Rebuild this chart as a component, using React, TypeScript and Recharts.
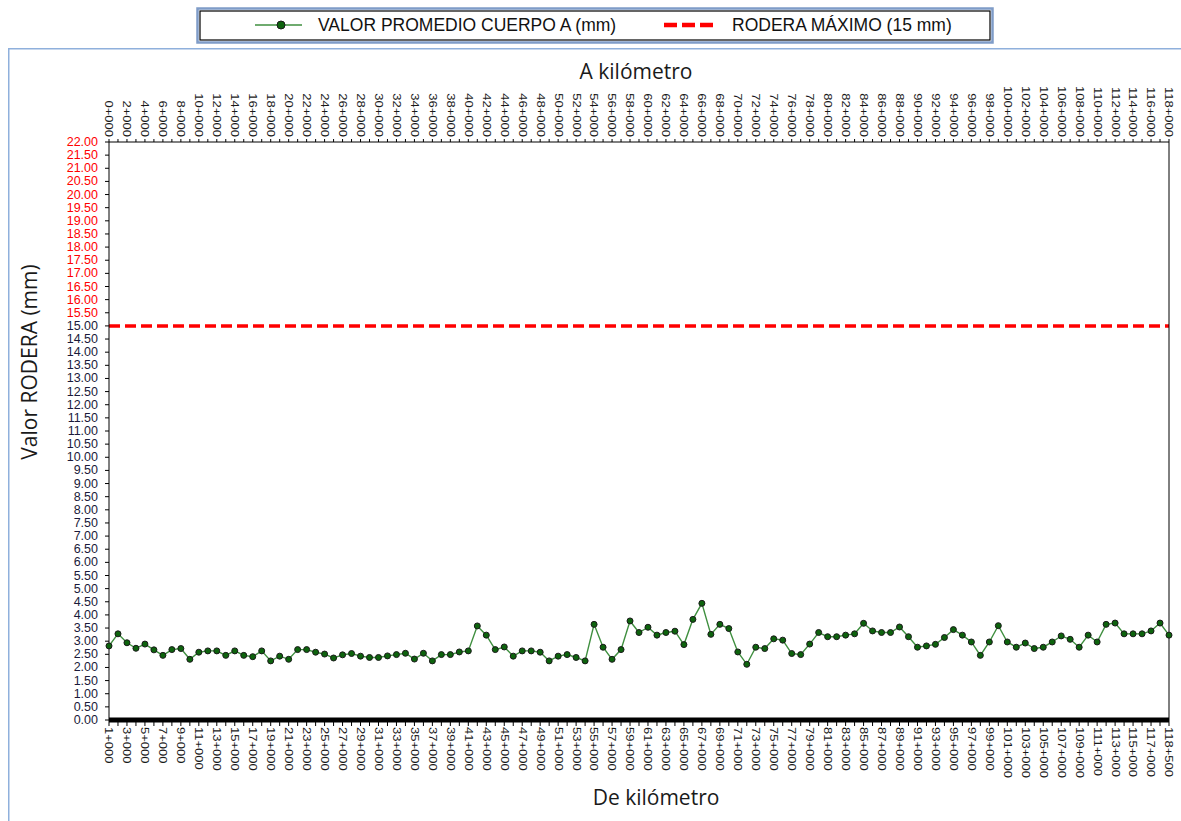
import { LineChart, Line, XAxis, YAxis, ReferenceLine } from "recharts"

// km markers: top axis shows "A" (to), bottom axis shows "De" (from)
const KM_A = Array.from({ length: 119 }, (_, i) => `${i}+000`)
const KM_DE = Array.from({ length: 119 }, (_, i) =>
  i < 118 ? `${i + 1}+000` : "118+500"
)

// Valor promedio cuerpo A (mm)
const VALOR_A = [
  2.82, 3.28, 2.94, 2.73, 2.89, 2.67, 2.46, 2.68, 2.72, 2.31,
  2.58, 2.63, 2.63, 2.46, 2.63, 2.46, 2.41, 2.63, 2.25, 2.43,
  2.31, 2.68, 2.68, 2.58, 2.51, 2.36, 2.48, 2.53, 2.43, 2.38,
  2.38, 2.44, 2.49, 2.54, 2.32, 2.54, 2.25, 2.49, 2.49, 2.59,
  2.63, 3.58, 3.23, 2.68, 2.78, 2.43, 2.63, 2.63, 2.58, 2.25,
  2.43, 2.49, 2.38, 2.25, 3.64, 2.77, 2.31, 2.68, 3.77, 3.33,
  3.53, 3.23, 3.33, 3.38, 2.87, 3.83, 4.44, 3.26, 3.64, 3.48,
  2.59, 2.12, 2.77, 2.72, 3.09, 3.04, 2.53, 2.49, 2.89, 3.33,
  3.17, 3.17, 3.23, 3.28, 3.68, 3.39, 3.33, 3.33, 3.54, 3.17,
  2.77, 2.82, 2.88, 3.14, 3.44, 3.23, 2.97, 2.46, 2.97, 3.59,
  2.97, 2.77, 2.93, 2.72, 2.77, 2.97, 3.2, 3.07, 2.77, 3.23,
  2.97, 3.64, 3.69, 3.28, 3.28, 3.28, 3.39, 3.69, 3.23,
]

const RODERA_MAX = 15
const Y_TICKS = Array.from({ length: 45 }, (_, i) => i * 0.5)

const data = KM_A.map((a, i) => ({ a, de: KM_DE[i], valor: VALOR_A[i] }))

const FONT = "'Liberation Sans', Arial, sans-serif"
const TITLE_FONT = "'Open Sans', 'Noto Sans', sans-serif"

// vertical km labels, only every other category gets text
const KmTick = ({ x, y, payload, index, anchor }: any) => {
  if (index % 2) return <g />
  return (
    <text
      transform={`translate(${x},${y}) rotate(90) scale(1,0.82)`}
      textAnchor={anchor}
      dominantBaseline="central"
      fontSize={13}
      fontFamily={FONT}
      fill="#1a1a1a"
    >
      {payload.value}
    </text>
  )
}

const LeftTick = ({ x, y, payload }: any) => (
  <text
    x={x}
    y={y}
    textAnchor="end"
    dominantBaseline="central"
    fontSize={12.5}
    fontFamily={FONT}
    fill={payload.value > RODERA_MAX ? "#ff0000" : "#1a1a3a"}
  >
    {payload.value.toFixed(2)}
  </text>
)

export default function App() {
  return (
    <div
      style={{
        position: "absolute",
        left: 0,
        top: 0,
        width: 1181,
        height: 821,
        background: "#fff",
        overflow: "hidden",
      }}
    >
      <LineChart
        width={1181}
        height={821}
        data={data}
        margin={{ top: 50, right: 0, bottom: 31, left: 10 }}
      >
        <XAxis
          xAxisId="top"
          orientation="top"
          dataKey="a"
          height={92}
          interval={0}
          tick={<KmTick anchor="end" />}
          tickSize={3}
          tickMargin={2}
          axisLine={{ stroke: "#000", strokeWidth: 1 }}
          tickLine={{ stroke: "#000" }}
        />
        <XAxis
          xAxisId="bottom"
          orientation="bottom"
          dataKey="de"
          height={70}
          interval={0}
          tick={<KmTick anchor="start" />}
          tickSize={6}
          tickMargin={1}
          axisLine={{ stroke: "#000", strokeWidth: 5 }}
          tickLine={{ stroke: "#000" }}
        />
        <YAxis
          yAxisId="left"
          width={99}
          domain={[0, 22]}
          ticks={Y_TICKS}
          interval={0}
          tick={<LeftTick />}
          tickSize={4}
          tickMargin={7}
          axisLine={{ stroke: "#000", strokeWidth: 1 }}
          tickLine={{ stroke: "#000" }}
        />
        <YAxis
          yAxisId="right"
          orientation="right"
          width={12}
          domain={[0, 22]}
          tick={false}
          tickLine={false}
          axisLine={{ stroke: "#000", strokeWidth: 1 }}
        />
        <ReferenceLine
          xAxisId="bottom"
          yAxisId="left"
          y={RODERA_MAX}
          stroke="#ff0000"
          strokeWidth={3.5}
          strokeDasharray="11 5"
        />
        <Line
          xAxisId="bottom"
          yAxisId="left"
          dataKey="valor"
          type="linear"
          stroke="#3f8f3f"
          strokeWidth={1.4}
          dot={{ r: 3, fill: "#0d630d", stroke: "#1a1a1a", strokeWidth: 1 }}
          isAnimationActive={false}
        />
      </LineChart>

      {/* frame, legend and axis titles */}
      <svg
        width={1181}
        height={821}
        style={{ position: "absolute", left: 0, top: 0, pointerEvents: "none" }}
      >
        <rect x={8.75} y={48.75} width={1200} height={800} fill="none" stroke="#8fb0dc" strokeWidth={1.5} />

        <rect x={197.5} y={8.5} width={795} height={34} fill="#fff" stroke="#7f9cc8" strokeWidth={2.5} />
        <rect x={200} y={11} width={790} height={29} fill="none" stroke="#000" strokeWidth={1.2} />
        <line x1={255} y1={25} x2={302} y2={25} stroke="#3f8f3f" strokeWidth={1.5} />
        <circle cx={281} cy={25} r={4} fill="#0d630d" stroke="#1a1a1a" strokeWidth={1} />
        <text x={318} y={31} fontSize={17.5} fontFamily={FONT} fill="#111">
          VALOR PROMEDIO CUERPO A (mm)
        </text>
        <line x1={664} y1={25} x2={714} y2={25} stroke="#ff0000" strokeWidth={4.5} strokeDasharray="13 5" />
        <text x={732} y={31} fontSize={17.5} fontFamily={FONT} fill="#111">
          RODERA MÁXIMO (15 mm)
        </text>

        <text x={636} y={79} textAnchor="middle" fontSize={21} fontFamily={TITLE_FONT} fill="#1a1a1a">
          A kilómetro
        </text>
        <text x={656} y={805} textAnchor="middle" fontSize={21} fontFamily={TITLE_FONT} fill="#1a1a1a">
          De kilómetro
        </text>
        <text
          transform="translate(37,362) rotate(-90)"
          textAnchor="middle"
          fontSize={21}
          fontFamily={TITLE_FONT}
          fill="#1a1a1a"
        >
          Valor RODERA (mm)
        </text>
      </svg>
    </div>
  )
}
